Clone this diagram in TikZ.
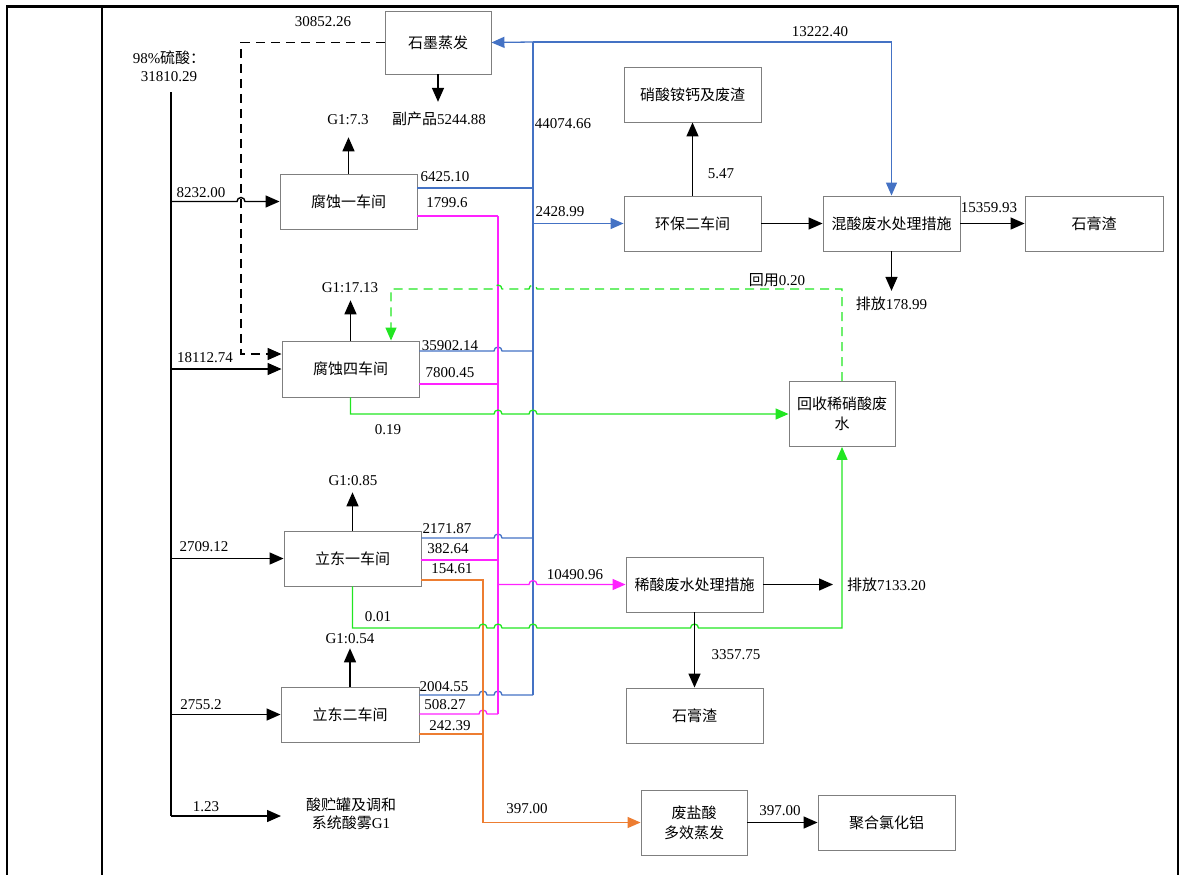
\documentclass[tikz,border=0pt]{standalone}
\usepackage{fontspec}
\setmainfont{Liberation Serif}
\newfontfamily\cjk{Noto Sans CJK SC}
\usetikzlibrary{arrows.meta}
\definecolor{cblue}{HTML}{4472C4}
\definecolor{cmag}{HTML}{FF22FF}
\definecolor{cgrn}{HTML}{22E622}
\definecolor{corg}{HTML}{ED7D31}
\definecolor{cbox}{HTML}{7F7F7F}
% small hops where a line crosses another one
\newcommand{\hopr}{arc[start angle=180, end angle=0, radius=4pt]}
\newcommand{\hopl}{arc[start angle=0, end angle=180, radius=4pt]}
\tikzset{
  every picture/.style={font=\fontsize{15}{18}\selectfont},
  box/.style={draw=cbox, line width=0.9pt, minimum width=137pt, minimum height=55pt, inner sep=0pt, align=center, font=\fontsize{15}{20}\selectfont\cjk},
  lbl/.style={inner sep=0pt, align=center},
  flow/.style={-{Triangle[length=14pt, width=12pt]}, line width=1.4pt},
  pipe/.style={draw=#1, line width=1.3pt},
  cflow/.style={pipe=#1, -{Triangle[length=13pt, width=11pt]}},
}

\begin{document}
\begin{tikzpicture}[x=1pt, y=-1pt]
  \useasboundingbox (0,0) rectangle (1180,875);
  % page frame
  \draw[line width=3pt] (6,7) -- (1179,7);
  \draw[line width=2pt] (7,7) -- (7,875);
  \draw[line width=1.5pt] (102,7) -- (102,875);
  \draw[line width=2pt] (1178,7) -- (1178,875);

  \node[box, minimum width=106pt, minimum height=63pt] (gr) at (438,42.5) {石墨蒸发};
  \node[box] (k1) at (348.5,201.5) {腐蚀一车间};
  \node[box, minimum height=56pt] (k4) at (350.5,369) {腐蚀四车间};
  \node[box] (ld1) at (352.5,558.5) {立东一车间};
  \node[box, minimum width=138pt] (ld2) at (350,714.5) {立东二车间};
  \node[box] (nac) at (692.5,94.5) {硝酸铵钙及废渣};
  \node[box] (hb2) at (692.5,223.5) {环保二车间};
  \node[box] (mix) at (891.5,223.5) {混酸废水处理措施};
  \node[box, minimum width=138pt] (gy1) at (1094,223.5) {石膏渣};
  \node[box, minimum width=106pt, minimum height=65pt] (rec) at (842,414) {回收稀硝酸废\\水};
  \node[box] (dil) at (694.5,584.5) {稀酸废水处理措施};
  \node[box] (gy2) at (694.5,715.5) {石膏渣};
  \node[box, minimum width=106pt, minimum height=65pt] (hcl) at (694,822.5) {废盐酸\\多效蒸发};
  \node[box] (pac) at (886.5,822.5) {聚合氯化铝};

  \node[lbl] (acid) at (169,66) {98\%{\cjk 硫酸：}\\31810.29};
  \node[lbl] (tank) at (351,814) {{\cjk 酸贮罐及调和}\\{\cjk 系统酸雾}G1};
  \node[lbl] (byp) at (439,119) {{\cjk 副产品}5244.88};
  \node[lbl] (g1a) at (348,120) {G1:7.3};
  \node[lbl] (g1b) at (350,288) {G1:17.13};
  \node[lbl] (g1c) at (353,481) {G1:0.85};
  \node[lbl] (g1d) at (350,639) {G1:0.54};
  \node[lbl] (out1) at (891.5,304) {{\cjk 排放}178.99};
  \node[lbl, anchor=west] (out2) at (847,584.5) {{\cjk 排放}7133.20};
  \node[lbl] (reuse) at (777,280) {{\cjk 回用}0.20};
  \node[lbl] (q30852) at (323,22) {30852.26};
  \node[lbl] (q13222) at (820,32) {13222.40};
  \node[lbl] (q44074) at (563,124) {44074.66};
  \node[lbl] (q5) at (721,174) {5.47};
  \node[lbl] (q2428) at (560,212) {2428.99};
  \node[lbl] (q15359) at (989,208) {15359.93};
  \node[lbl] (q8232) at (201,193) {8232.00};
  \node[lbl] (q6425) at (445,177) {6425.10};
  \node[lbl] (q1799) at (447,203) {1799.6};
  \node[lbl] (q18112) at (205,358) {18112.74};
  \node[lbl] (q35902) at (450,346) {35902.14};
  \node[lbl] (q7800) at (450,373) {7800.45};
  \node[lbl] (q019) at (388,430) {0.19};
  \node[lbl] (q2709) at (204,547) {2709.12};
  \node[lbl] (q2171) at (447,529) {2171.87};
  \node[lbl] (q382) at (448,549) {382.64};
  \node[lbl] (q154) at (452,569) {154.61};
  \node[lbl] (q001) at (378,617) {0.01};
  \node[lbl] (q2755) at (201,705) {2755.2};
  \node[lbl] (q2004) at (444,687) {2004.55};
  \node[lbl] (q508) at (445,705) {508.27};
  \node[lbl] (q242) at (450,726) {242.39};
  \node[lbl] (q10490) at (575,575) {10490.96};
  \node[lbl] (q3357) at (736,655) {3357.75};
  \node[lbl] (q397a) at (527,809) {397.00};
  \node[lbl] (q397b) at (780,811) {397.00};
  \node[lbl] (q123) at (206,807) {1.23};

  \coordinate (top) at (171,92);
  \coordinate (bot) at (171,816);
  \coordinate (tankin) at (281,816);
  \coordinate (btop) at (533,42);
  \coordinate (bbot) at (533,695);
  \coordinate (mtop) at (498,216);
  \coordinate (mbot) at (498,714);
  \coordinate (obot) at (483,822.5);

  % sulphuric acid feed
  \draw[line width=1.4pt] (top) -- (bot);
  \draw[flow] (top |- k1.west) -- (237,201.5) \hopr -- (k1.west);
  \draw[flow] (top |- k4.west) -- (k4.west);
  \draw[flow] (top |- ld1.west) -- (ld1.west);
  \draw[flow] (top |- ld2.west) -- (ld2.west);
  \draw[flow] (bot) -- (tankin);
  \draw[flow, dash pattern=on 9pt off 6pt] (gr.west) -| (241,354) -- (k4.west |- 0,354);
  \foreach \b/\g/\s in {k1/g1a/12, k4/g1b/7, ld1/g1c/6, ld2/g1d/4}
    \draw[flow, shorten >=\s pt] (\b.north) -- (\g.south -| \b.north);
  \draw[flow, shorten >=10pt] (gr.south) -- (byp.north -| gr.south);

  % blue
  \draw[pipe=cblue] (btop) -- (bbot);
  \draw[cflow=cblue] (btop) -- (gr.east);
  \draw[cflow=cblue] (btop) -| (mix.north);
  \draw[pipe=cblue] (k1.east |- 0,188) -- (btop |- 0,188);
  \draw[pipe=cblue] (k4.east |- 0,351) -- (494,351) \hopr -- (btop |- 0,351);
  \draw[pipe=cblue] (ld1.east |- 0,538) -- (494,538) \hopr -- (btop |- 0,538);
  \draw[pipe=cblue] (ld2.east |- bbot) -- (479,695) \hopr -- (494,695) \hopr -- (bbot);
  \draw[cflow=cblue] (btop |- hb2.west) -- (hb2.west);

  % magenta
  \draw[pipe=cmag] (mtop) -- (mbot);
  \draw[pipe=cmag] (k1.east |- mtop) -- (mtop);
  \draw[pipe=cmag] (k4.east |- 0,384) -- (mtop |- 0,384);
  \draw[pipe=cmag] (ld1.east |- 0,560) -- (mtop |- 0,560);
  \draw[pipe=cmag] (ld2.east |- mbot) -- (479,714) \hopr -- (mbot);
  \draw[cflow=cmag] (mtop |- dil.west) -- (529,584.5) \hopr -- (dil.west);

  % orange
  \draw[cflow=corg] (ld1.east |- 0,580) -| (obot) -- (hcl.west);
  \draw[pipe=corg] (ld2.east |- 0,734) -- (obot |- 0,734);

  % green
  \draw[cflow=cgrn] (k4.south) |- (494,414) \hopr -- (529,414) \hopr -- (rec.west);
  \draw[cflow=cgrn] (ld1.south) |- (479,628) \hopr -- (494,628) \hopr -- (529,628) \hopr -- (690.5,628) \hopr -| (rec.south);
  \draw[cflow=cgrn, dash pattern=on 9pt off 6pt] (rec.north) |- (537,289) \hopl -- (502,289) \hopl -- (391,289) -- (k4.north -| 391,289);

  % treatment
  \draw[flow] (hb2.north) -- (nac.south);
  \draw[flow] (hb2.east) -- (mix.west);
  \draw[flow] (mix.east) -- (gy1.west);
  \draw[flow, shorten >=6pt] (mix.south) -- (out1.north);
  \draw[flow] (dil.south) -- (gy2.north);
  \draw[flow, shorten >=14pt] (dil.east) -- (out2.west);
  \draw[flow] (hcl.east) -- (pac.west);
\end{tikzpicture}
\end{document}
